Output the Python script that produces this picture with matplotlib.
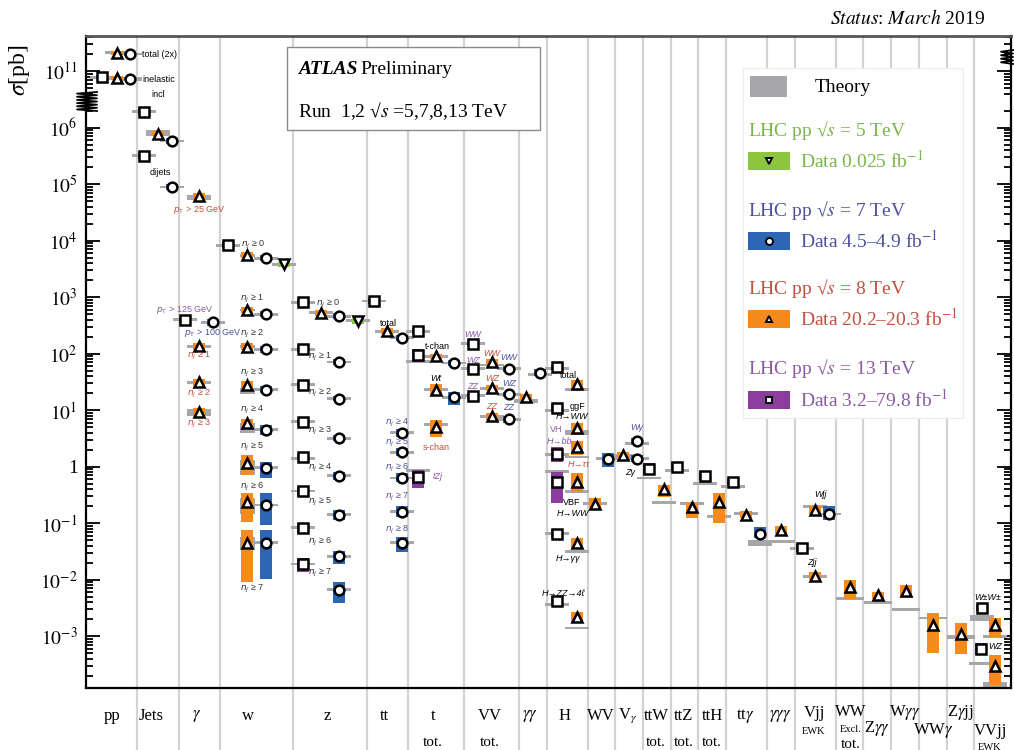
import numpy as np
import matplotlib
matplotlib.use('Agg')
import matplotlib.pyplot as plt
from matplotlib.patches import Rectangle
from matplotlib.lines import Line2D
from matplotlib.ticker import FixedLocator, FixedFormatter, NullFormatter
import matplotlib.transforms as mtransforms

plt.rcParams['font.family'] = ['Liberation Serif', 'DejaVu Serif']
plt.rcParams['mathtext.fontset'] = 'stix'

# colours
THEORY = '#a7a7ab'
C5, C7, C8, C13 = '#8cc63f', '#2e66b6', '#f58a1f', '#8a3d9c'
T5, T7, T8, T13 = '#7ab648', '#50509e', '#c0503f', '#8b5aa2'

# category layout (column units along x)
cat_edges = [86, 137, 179, 220, 293, 367, 408, 464, 519, 547, 588, 615, 643, 671,
             698, 726, 767, 795, 836, 863, 891, 919, 947, 974, 1011]

# ---------------- 13 TeV (squares) ----------------
x13 = [102, 144, 144, 185, 228, 303, 303, 303, 303, 303, 303, 303, 303, 374, 418, 418, 418,
       473, 473, 473, 557, 557, 557, 557, 557, 557, 649, 677, 705, 733, 802, 982, 981]
sig13 = [7.8e10, 1.9e6, 3.2e5, 400, 8300, 810, 120, 28, 6.2, 1.5, 0.37, 0.083, 0.019, 850,
         250, 95, 0.66, 150, 54, 18, 57, 11, 1.65, 0.54, 0.065, 0.0042, 0.91, 1.0, 0.69,
         0.54, 0.036, 0.0032, 0.00059]
up13 = [.03, .06, .06, .05, .05, .05, .05, .05, .05, .05, .08, .08, .10, .05, .05, .11, .12,
        .05, .05, .05, .05, .07, .13, .18, .08, .08, .10, .08, .08, .05, .07, .06, .10]
dn13 = [.03, .06, .06, .05, .05, .05, .05, .05, .05, .05, .11, .11, .15, .05, .05, .13, .20,
        .05, .05, .05, .05, .07, .13, .37, .08, .08, .10, .08, .08, .05, .07, .06, .10]
th13 = [7.8e10, 1.9e6, 3.2e5, 400, 8300, 810, 120, 28, 6.2, 1.4, 0.37, 0.083, 0.019, 850,
        250, 72, 0.86, 150, 54, 18, 55, 10, 1.65, 0.83, 0.065, 0.0036, 0.63, 0.86, 0.51,
        0.45, 0.036, 0.0021, 0.00033]
thd13 = [.025] * 31 + [.045, .03]

# ---------------- 8 TeV (triangles) ----------------
x8 = [117, 117, 158, 199, 199, 199, 199, 247, 247, 247, 247, 247, 247, 247, 247, 321, 387,
      436, 436, 436, 492, 492, 492, 526, 577, 577, 577, 577, 577, 577, 595, 623, 664, 692,
      719, 746, 781, 815, 815, 850, 878, 906, 933, 961, 995, 995]
sig8 = [2.1e11, 7.5e10, 7.8e5, 6.2e4, 135, 31, 9.1, 5500, 590, 132, 27.5, 5.9, 1.17, 0.24,
        0.045, 525, 250, 89, 23, 5.0, 71, 24.5, 7.8, 17, 29, 4.8, 2.2, 0.54, 0.045, 0.0022,
        0.22, 1.6, 0.40, 0.19, 0.24, 0.14, 0.076, 0.17, 0.0115, 0.0074, 0.0054, 0.0063,
        0.0016, 0.0011, 0.0016, 0.0003]
up8 = [.03, .03, .05, .05, .06, .06, .07, .05, .06, .06, .07, .08, .14, .15, .23, .05, .05,
       .05, .10, .13, .05, .05, .06, .06, .07, .09, .12, .16, .09, .09, .11, .05, .07, .08,
       .15, .06, .07, .07, .07, .13, .05, .10, .21, .20, .12, .19]
dn8 = [.03, .03, .05, .05, .06, .06, .07, .05, .06, .06, .07, .08, .22, .36, .69, .05, .05,
       .05, .10, .17, .05, .05, .06, .06, .10, .12, .14, .18, .09, .11, .11, .05, .14, .18,
       .38, .06, .07, .07, .07, .21, .07, .13, .50, .36, .22, .34]
th8 = [2.1e11, 7.5e10, 8e5, 5.8e4, 135, 31, 9.1, 5500, 590, 132, 22, 4.8, 0.97, 0.2, 0.044,
       525, 250, 89, 23, 5.6, 63, 24.5, 7.8, 14.5, 23, 4.0, 1.48, 0.36, 0.031, 0.0014, 0.22,
       1.6, 0.23, 0.22, 0.13, 0.15, 0.048, 0.2, 0.0115, 0.0046, 0.0039, 0.003, 0.0021,
       0.00096, 0.00098, 0.000135]
thd8 = [.025, .025, .05, .05, .025, .025, .06, .025, .025, .025, .05, .09, .13, .14, .12,
        .025, .025, .025, .025, .025, .025, .025, .025, .03, .025, .04, .025, .025, .025,
        .025, .025, .025, .025, .025, .025, .03, .025, .025, .025, .025, .025, .025, .025,
        .025, .025, .03]
thw8 = [24] * 7 + [15] * 8 + [24] * 21 + [28, 24, 24, 28, 28, 28, 28, 28, 24, 24]

# ---------------- 7 TeV (circles) ----------------
x7 = [130, 130, 172, 172, 213, 266, 266, 266, 266, 266, 266, 266, 266, 339, 339, 339, 339,
      339, 339, 339, 339, 402, 402, 402, 402, 402, 402, 454, 454, 509, 509, 509, 540, 608,
      637, 637, 760, 829]
sig7 = [2.0e11, 7.3e10, 5.8e5, 8.9e4, 360, 4900, 500, 120, 23, 4.5, 0.95, 0.21, 0.045, 457,
        71, 16, 3.2, 0.69, 0.14, 0.026, 0.0066, 190, 4.0, 1.8, 0.63, 0.16, 0.045, 68, 17, 54,
        19, 6.9, 46, 1.38, 2.8, 1.38, 0.065, 0.145]
up7 = [.03, .03, .06, .06, .06, .05, .05, .06, .06, .08, .10, .21, .23, .05, .05, .05, .06,
       .07, .09, .10, .14, .05, .07, .07, .08, .10, .10, .06, .09, .05, .05, .06, .06, .10,
       .06, .06, .12, .14]
dn7 = [.03, .03, .06, .06, .06, .05, .05, .06, .06, .10, .18, .35, .65, .05, .05, .05, .06,
       .07, .09, .13, .23, .05, .07, .07, .08, .10, .16, .06, .14, .05, .05, .06, .06, .14,
       .06, .06, .08, .11]
th7 = [2.0e11, 7.3e10, 5.8e5, 8.9e4, 360, 4900, 500, 120, 23, 4.5, 0.95, 0.21, 0.045, 457,
       71, 16, 3.2, 0.69, 0.14, 0.026, 0.0066, 190, 4.0, 1.8, 0.63, 0.16, 0.045, 68, 17, 54,
       19, 6.9, 42, 1.38, 2.6, 1.38, 0.045, 0.145]
thd7 = [.025, .04] + [.025] * 34 + [.05, .025]

# ---------------- 5 TeV (inverted triangles) ----------------
x5 = [284, 358]
sig5 = [3800, 380]

# on-plot annotations: text, x, sigma, colour, italic, alignment
notes = [
    ('total (2x)', 142, 2.0e11, 'black', False, 'left'),
    ('inelastic', 142, 7.2e10, 'black', False, 'left'),
    ('incl', 158, 3.8e10, 'black', False, 'center'),
    ('dijets', 160, 1.6e5, 'black', False, 'center'),
    (r'$p_{\rm T}$ > 25 GeV', 199, 3.5e4, T8, False, 'center'),
    (r'$p_{\rm T}$ > 125 GeV', 185, 590, T13, False, 'center'),
    (r'$p_{\rm T}$ > 100 GeV', 213, 230, T7, False, 'center'),
    (r'$n_j$ ≥ 1', 199, 90, T8, False, 'center'),
    (r'$n_j$ ≥ 2', 199, 19.5, T8, False, 'center'),
    (r'$n_j$ ≥ 3', 199, 5.7, T8, False, 'center'),
    (r'$n_j$ ≥ 0', 253, 8300, '#333333', False, 'center'),
    (r'$n_j$ ≥ 1', 252, 930, '#333333', False, 'center'),
    (r'$n_j$ ≥ 2', 252, 220, '#333333', False, 'center'),
    (r'$n_j$ ≥ 3', 252, 46, '#333333', False, 'center'),
    (r'$n_j$ ≥ 4', 252, 10, '#333333', False, 'center'),
    (r'$n_j$ ≥ 5', 252, 2.2, '#333333', False, 'center'),
    (r'$n_j$ ≥ 6', 252, 0.44, '#333333', False, 'center'),
    (r'$n_j$ ≥ 7', 252, 0.0069, '#333333', False, 'center'),
    (r'$n_j$ ≥ 0', 328, 760, '#333333', False, 'center'),
    (r'$n_j$ ≥ 1', 320, 87, '#333333', False, 'center'),
    (r'$n_j$ ≥ 2', 320, 20, '#333333', False, 'center'),
    (r'$n_j$ ≥ 3', 320, 4.3, '#333333', False, 'center'),
    (r'$n_j$ ≥ 4', 320, 0.95, '#333333', False, 'center'),
    (r'$n_j$ ≥ 5', 320, 0.24, '#333333', False, 'center'),
    (r'$n_j$ ≥ 6', 320, 0.047, '#333333', False, 'center'),
    (r'$n_j$ ≥ 7', 320, 0.013, '#333333', False, 'center'),
    ('total', 388, 347, 'black', False, 'center'),
    (r'$n_j$ ≥ 4', 397, 5.9, T7, False, 'center'),
    (r'$n_j$ ≥ 5', 397, 2.6, T7, False, 'center'),
    (r'$n_j$ ≥ 6', 397, 0.95, T7, False, 'center'),
    (r'$n_j$ ≥ 7', 397, 0.29, T7, False, 'center'),
    (r'$n_j$ ≥ 8', 397, 0.076, T7, False, 'center'),
    ('t-chan', 437, 132, 'black', False, 'center'),
    ('Wt', 436, 37, 'black', True, 'center'),
    ('s-chan', 436, 2.2, T8, False, 'center'),
    ('tZj', 433, 0.66, T13, True, 'left'),
    ('WW', 473, 222, T13, True, 'center'),
    ('WW', 492, 102, T8, True, 'center'),
    ('WW', 509, 84, T7, True, 'center'),
    ('WZ', 473, 77, T13, True, 'center'),
    ('WZ', 492, 37, T8, True, 'center'),
    ('WZ', 509, 29, T7, True, 'center'),
    ('ZZ', 473, 26, T13, True, 'center'),
    ('ZZ', 492, 11.4, T8, True, 'center'),
    ('ZZ', 509, 11, T7, True, 'center'),
    ('total', 568, 40.6, 'black', False, 'center'),
    ('ggF', 578, 11.4, 'black', False, 'center'),
    ('H→WW', 572, 7.6, 'black', True, 'center'),
    ('VH', 556, 4.5, T13, False, 'center'),
    ('H→bb', 559, 2.8, T13, True, 'center'),
    ('H→ττ', 579, 1.1, T8, True, 'center'),
    ('VBF', 572, 0.23, 'black', False, 'center'),
    ('H→WW', 573, 0.15, 'black', True, 'center'),
    ('H→γγ', 568, 0.024, 'black', True, 'center'),
    ('H→ZZ→4ℓ', 563, 0.0058, 'black', True, 'center'),
    ('Wγ', 637, 5.0, T7, True, 'center'),
    ('Zγ', 630, 0.78, 'black', True, 'center'),
    ('Wjj', 820, 0.32, 'black', True, 'center'),
    ('Zjj', 812, 0.02, 'black', True, 'center'),
    ('W±W±', 988, 0.0048, 'black', True, 'center'),
    ('WZ', 995, 0.00065, 'black', True, 'center'),
]

# category names under the axis: text, x, row (pixel below the frame), size
cat_labels = [
    ('pp', 112, 28, 12), ('Jets', 151, 28, 12), (r'$\gamma$', 197, 28, 12), ('w', 248, 28, 12),
    ('z', 327, 28, 12), ('tt', 384, 28, 12), ('t', 433, 28, 12), ('tot.', 433, 55, 11),
    ('VV', 490, 28, 12), ('tot.', 490, 55, 11), (r'$\gamma\gamma$', 530, 28, 12),
    ('H', 565, 28, 12), ('WV', 601, 28, 12), (r'V$_\gamma$', 628, 28, 12),
    ('ttW', 656, 28, 12), ('tot.', 656, 55, 11), ('ttZ', 684, 28, 12), ('tot.', 684, 55, 11),
    ('ttH', 712, 28, 12), ('tot.', 712, 55, 11), (r'tt$\gamma$', 745, 28, 12),
    (r'$\gamma\gamma\gamma$', 780, 28, 12), ('Vjj', 814, 25, 12), ('EWK', 814, 43, 7.5),
    ('WW', 851, 24, 12), ('Excl.', 851, 41, 7.5), ('tot.', 851, 57, 11),
    (r'Z$\gamma\gamma$', 877, 40, 12), (r'W$\gamma\gamma$', 905, 24, 12),
    (r'WW$\gamma$', 933, 42, 12), (r'Z$\gamma$jj', 960, 24, 12), ('VVjj', 990, 43, 12),
    ('EWK', 990, 59, 7.5),
]


def fwd(v):
    l = np.log10(np.clip(np.asarray(v, float), 1e-30, None))
    return np.where(l >= 10.5, l - 4.0, np.minimum(l, 6.5))


def inv(p):
    p = np.clip(np.asarray(p, float), -30, 30)
    return np.where(p > 6.5, 10.0 ** (p + 4.0), 10.0 ** p)


fig = plt.figure(figsize=(10.14, 7.5), dpi=100)
ax = fig.add_axes([86 / 1014, 62 / 750, 925 / 1014, 652 / 750])
ax.set_yscale('function', functions=(fwd, inv))
ax.set_xlim(86, 1011)
ax.set_ylim(10 ** -3.917, 10 ** 11.62)


def draw(x, sig, up, dn, th, thd, thw, col, marker, ms):
    x = np.asarray(x, float)
    sig = np.asarray(sig, float)
    th = np.asarray(th, float)
    thd = np.asarray(thd, float)
    ax.bar(x, th * 10 ** thd - th / 10 ** thd, bottom=th / 10 ** thd, width=thw,
           color=THEORY, linewidth=0, zorder=2)
    lo = sig / 10 ** np.asarray(dn)
    hi = sig * 10 ** np.asarray(up)
    ax.bar(x, hi - lo, bottom=lo, width=12, color=col, linewidth=0, zorder=3)
    ax.plot(x, sig, ls='none', marker=marker, ms=ms, mfc='white', mec='black', mew=1.8,
            zorder=4)


draw(x13, sig13, up13, dn13, th13, thd13, 24, C13, 's', 6.5)
draw(x8, sig8, up8, dn8, th8, thd8, thw8, C8, '^', 7.5)
draw(x7, sig7, up7, dn7, th7, thd7, 24, C7, 'o', 7)
draw(x5, sig5, [.05, .05], [.05, .05], sig5, [.025, .025], 24, C5, 'v', 7.5)

# separators
sep_tr = mtransforms.blended_transform_factory(ax.transData, ax.transAxes)
for e in cat_edges[1:-1]:
    ax.axvline(e, color='#d2d2d2', lw=1.6, zorder=1)
    ax.add_line(Line2D([e, e], [0, -62 / 652], transform=sep_tr, color='#d2d2d2', lw=1.6,
                       clip_on=False))

for txt, x, y, c, it, ha in notes:
    ax.text(x, y, txt, color=c, ha=ha, va='center', fontsize=6.5,
            style='italic' if it else 'normal', family=['Liberation Sans', 'DejaVu Sans'],
            math_fontfamily='dejavusans', zorder=6)

for txt, x, dy, fs in cat_labels:
    ax.text(x, -dy / 652, txt, transform=sep_tr, ha='center', va='center', fontsize=fs)

# axes styling
major = [1e11, 1e6, 1e5, 1e4, 1e3, 1e2, 1e1, 1, 1e-1, 1e-2, 1e-3]
major_lbl = [r'$10^{11}$', r'$10^{6}$', r'$10^{5}$', r'$10^{4}$', r'$10^{3}$', r'$10^{2}$',
             r'$10^{1}$', '1', r'$10^{-1}$', r'$10^{-2}$', r'$10^{-3}$']
minor = [k * 10.0 ** n for n in range(-4, 7) for k in range(2, 10)
         if 10 ** -3.917 < k * 10.0 ** n < 10 ** 6.45]
minor += [k * 10.0 ** n for n in (10, 11) for k in range(2, 10)
          if 10 ** 10.55 < k * 10.0 ** n < 10 ** 11.62]
ax.yaxis.set_major_locator(FixedLocator(major))
ax.yaxis.set_major_formatter(FixedFormatter(major_lbl))
ax.yaxis.set_minor_locator(FixedLocator(minor))
ax.yaxis.set_minor_formatter(NullFormatter())
ax.set_xticks([])
ax.tick_params(axis='y', which='both', direction='in', left=True, right=True, width=1.3,
               labelsize=14, pad=6)
ax.tick_params(axis='y', which='major', length=10)
ax.tick_params(axis='y', which='minor', length=5)
for s in ('left', 'right', 'bottom'):
    ax.spines[s].set_linewidth(1.6)
ax.spines['top'].set_linewidth(2)
ax.spines['top'].set_color('#555555')


# axis breaks
def zigzag(x0, x1, y0, y1, n=6):
    ys = np.linspace(y0, y1, 2 * n + 1)
    xs = [x0 if i % 2 else x1 for i in range(len(ys))]
    ax.add_line(Line2D(xs, ys, transform=ax.transAxes, color='black', lw=1.3, clip_on=False,
                       zorder=7))


zigzag(-9 / 925, 11 / 925, (688 - 92) / 652, (688 - 111) / 652)
zigzag(915 / 925, 927 / 925, (688 - 50) / 652, (688 - 64) / 652, n=4)

# ATLAS box
ax.add_patch(Rectangle((201 / 925, 558 / 652), 253 / 925, 83 / 652, transform=ax.transAxes,
                       facecolor='white', edgecolor='#8a8a8a', lw=1, zorder=5))
ax.text(212 / 925, 618 / 652, 'ATLAS', transform=ax.transAxes, fontsize=14,
        fontweight='bold', style='italic', va='center', zorder=6)
ax.text(274 / 925, 618 / 652, 'Preliminary', transform=ax.transAxes, fontsize=14,
        va='center', zorder=6)
ax.text(212 / 925, 577 / 652, r'Run  1,2 √$s$ =5,7,8,13 TeV', transform=ax.transAxes,
        fontsize=14, va='center', zorder=6)

# legend panel
ax.add_patch(Rectangle((657 / 925, 270 / 652), 220 / 925, 350 / 652, transform=ax.transAxes,
                       facecolor='white', edgecolor='#ececec', lw=0.8, zorder=5))
ax.add_patch(Rectangle((664 / 925, 591 / 652), 37 / 925, 21 / 652, transform=ax.transAxes,
                       facecolor=THEORY, lw=0, zorder=6))
ax.text(729 / 925, 601 / 652, 'Theory', transform=ax.transAxes, fontsize=14, va='center',
        zorder=6)
legend_rows = [
    (r'LHC pp √$s$ = 5 TeV', r'Data 0.025 fb$^{-1}$', C5, T5, 'v', 557, 527),
    (r'LHC pp √$s$ = 7 TeV', r'Data 4.5–4.9 fb$^{-1}$', C7, T7, 'o', 478, 447),
    (r'LHC pp √$s$ = 8 TeV', r'Data 20.2–20.3 fb$^{-1}$', C8, T8, '^', 399, 369),
    (r'LHC pp √$s$ = 13 TeV', r'Data 3.2–79.8 fb$^{-1}$', C13, T13, 's', 319, 288),
]
for head, data_txt, col, tcol, mk, yh, yd in legend_rows:
    ax.text(662 / 925, yh / 652, head, transform=ax.transAxes, fontsize=14, color=tcol,
            va='center', zorder=6)
    ax.add_patch(Rectangle((662 / 925, (yd - 9) / 652), 42 / 925, 18 / 652,
                           transform=ax.transAxes, facecolor=col, lw=0, zorder=6))
    ax.plot([683 / 925], [yd / 652], transform=ax.transAxes, marker=mk, ms=5, mfc='white',
            mec='black', mew=1.4, zorder=7, clip_on=False)
    ax.text(714 / 925, yd / 652, data_txt, transform=ax.transAxes, fontsize=14, color=tcol,
            va='center', zorder=6)

fig.text(20 / 1014, 1 - 70 / 750, r'$\sigma$[pb]', rotation=90, fontsize=17, ha='center',
         va='center')
fig.text(985 / 1014, 1 - 18 / 750, r'$\mathit{Status}$: $\mathit{March}$ 2019', fontsize=14,
         ha='right', va='center')

fig.savefig('out.png', dpi=100)
